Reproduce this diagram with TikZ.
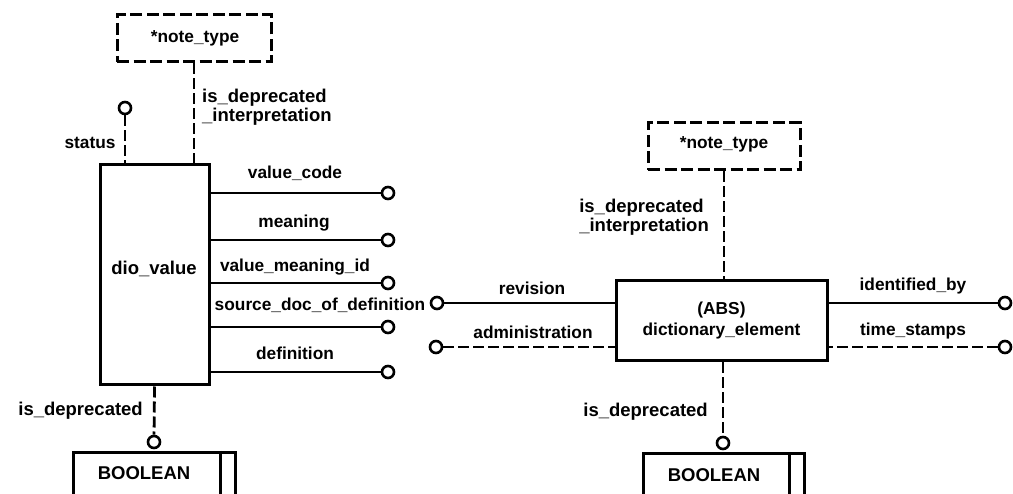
\documentclass[tikz,border=0pt]{standalone}
\usepackage{fontspec}
\setmainfont{Liberation Sans}
\begin{document}
\begin{tikzpicture}[x=1pt,y=-1pt,
  ent/.style={draw, line width=3pt, rectangle, inner sep=0pt},
  note/.style={draw, line width=3pt, dash pattern=on 12pt off 4.5pt, rectangle, inner sep=0pt},
  ring/.style={draw, circle, line width=2.6pt, minimum size=12pt, inner sep=0pt, fill=white},
  sline/.style={line width=2.8pt},
  dline/.style={line width=2.8pt, dash pattern=on 11pt off 4pt},
  lbl/.style={font=\bfseries\fontsize{17.3}{19.5}\selectfont, inner sep=0pt, text height=0.52em, text depth=0.2em},
  lbl2/.style={font=\bfseries\fontsize{17.3}{19.5}\selectfont, inner sep=0pt},
  big/.style={font=\bfseries\fontsize{18.5}{19.5}\selectfont}
]
\useasboundingbox (0,0) rectangle (1013,494);
\clip (0,0) rectangle (1013,494);

% ---------------- left diagram ----------------
\node[note, minimum width=154pt, minimum height=47pt] (note1) at (194,38.5) {};
\node[lbl2] (note1t) at (195,38) {*note\_type};
\node[ent, minimum width=109pt, minimum height=220pt] (dio) at (154.5,275) {};
\node[lbl, big] (diot) at (154,273) {dio\_value};

\node[ring] (stat) at (125,108) {};
\draw[dline] (stat) -- (stat |- dio.north);
\node[lbl] (statl) at (90,147) {status};

\draw[dline] (note1.south) -- (note1.south |- dio.north);
\node[lbl2, anchor=west, align=left, font=\bfseries\fontsize{18.5}{19.5}\selectfont] (dil1) at (202,107) {is\_deprecated\\\_interpretation};

\node[ring] (c1) at (388,193) {};
\node[ring] (c2) at (388,240) {};
\node[ring] (c3) at (388,283) {};
\node[ring] (c4) at (388,327) {};
\node[ring] (c5) at (388,372) {};
\draw[sline] (c1) -- (c1 -| dio.east);
\draw[sline] (c2) -- (c2 -| dio.east);
\draw[sline] (c3) -- (c3 -| dio.east);
\draw[sline] (c4) -- (c4 -| dio.east);
\draw[sline] (c5) -- (c5 -| dio.east);
\node[lbl] (l1) at (295,177) {value\_code};
\node[lbl] (l2) at (294,226) {meaning};
\node[lbl] (l3) at (295,270) {value\_meaning\_id};
\node[lbl] (l4) at (320,309) {source\_doc\_of\_definition};
\node[lbl] (l5) at (295,358) {definition};

\node[ring] (ib1) at (154,442) {};
\draw[dline] (dio.south) -- (ib1);
\node[lbl, big, anchor=east] (ibl1) at (143,414) {is\_deprecated};

\node[ent, anchor=north west, minimum width=162pt, minimum height=80pt] (bool1) at (72,451) {};
\draw[line width=3pt] ([xshift=-17pt]bool1.north east) -- ([xshift=-17pt]bool1.south east);
\node[lbl2, big] (bool1t) at (144,473) {BOOLEAN};

% ---------------- right diagram ----------------
\node[note, minimum width=152pt, minimum height=47pt] (note2) at (724,146.5) {};
\node[lbl2] (note2t) at (724,144) {*note\_type};
\node[ent, minimum width=211pt, minimum height=80pt, align=center, font=\bfseries\fontsize{17.3}{21}\selectfont] (de) at (721.5,321) {(ABS)\\dictionary\_element};

\draw[dline] (note2.south) -- (note2.south |- de.north);
\node[lbl2, anchor=east, align=left, font=\bfseries\fontsize{18.5}{19.5}\selectfont] (dil2) at (709,217) {is\_deprecated\\\_interpretation};

\node[ring] (rv) at (437,303) {};
\node[ring] (ad) at (436,347) {};
\node[ring] (idb) at (1005,303) {};
\node[ring] (ts) at (1005,347) {};
\draw[sline] (rv) -- (rv -| de.west);
\draw[dline] (ad) -- (ad -| de.west);
\draw[sline] (idb) -- (idb -| de.east);
\draw[dline] (ts) -- (ts -| de.east);
\node[lbl] (rvl) at (532,293) {revision};
\node[lbl] (adl) at (533,337) {administration};
\node[lbl] (idl) at (913,289) {identified\_by};
\node[lbl] (tsl) at (913,334) {time\_stamps};

\node[ring] (ib2) at (723,443) {};
\draw[dline] (ib2 |- de.south) -- (ib2);
\node[lbl, big, anchor=east] (ibl2) at (708,415) {is\_deprecated};

\node[ent, anchor=north west, minimum width=161pt, minimum height=80pt] (bool2) at (642,452) {};
\draw[line width=3pt] ([xshift=-17pt]bool2.north east) -- ([xshift=-17pt]bool2.south east);
\node[lbl2, big] (bool2t) at (714,475) {BOOLEAN};
\end{tikzpicture}
\end{document}
